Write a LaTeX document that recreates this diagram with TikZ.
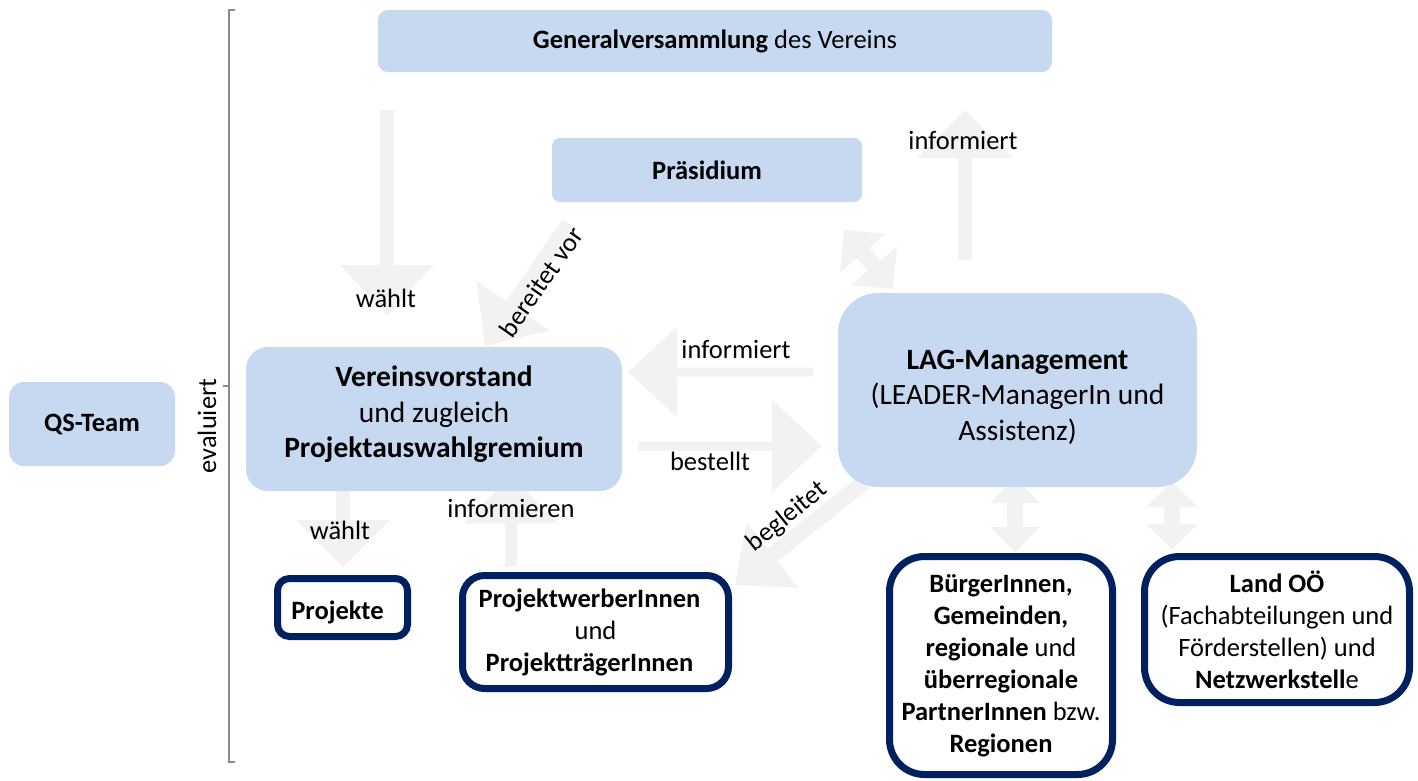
\documentclass[tikz,border=0pt]{standalone}
\usepackage{fontspec}
\setmainfont{Carlito}
\usetikzlibrary{calc}
\definecolor{boxblue}{HTML}{C6D9F1}
\definecolor{navy}{HTML}{002060}
\definecolor{arrgrey}{HTML}{F2F2F2}
\definecolor{brk}{HTML}{8C8C8C}
% block arrow: from, to, half shaft width, half head width, head length
\newcommand{\blockarrow}[5]{%
  \coordinate (ba-h) at ($(#2)!#5!(#1)$);
  \fill[arrgrey] ($(#1)!#3!90:(#2)$) -- ($(ba-h)!#3!90:(#2)$) -- ($(ba-h)!#4!90:(#2)$) -- (#2)
    -- ($(ba-h)!#4!-90:(#2)$) -- ($(ba-h)!#3!-90:(#2)$) -- ($(#1)!#3!-90:(#2)$) -- cycle;
}
% double block arrow
\newcommand{\dblockarrow}[5]{%
  \coordinate (da-h1) at ($(#2)!#5!(#1)$);
  \coordinate (da-h2) at ($(#1)!#5!(#2)$);
  \fill[arrgrey] (#1) -- ($(da-h2)!#4!90:(#2)$) -- ($(da-h2)!#3!90:(#2)$) -- ($(da-h1)!#3!90:(#2)$)
    -- ($(da-h1)!#4!90:(#2)$) -- (#2) -- ($(da-h1)!#4!-90:(#2)$) -- ($(da-h1)!#3!-90:(#2)$)
    -- ($(da-h2)!#3!-90:(#2)$) -- ($(da-h2)!#4!-90:(#2)$) -- cycle;
}
\begin{document}
\begin{tikzpicture}[x=1pt,y=-1pt,
  every node/.style={font=\fontsize{26.5}{35}\selectfont, inner sep=0pt, align=center, text=black},
  bluebox/.style={fill=boxblue, rounded corners=#1},
  bigtext/.style={font=\fontsize{29.5}{35.5}\selectfont},
  whitebox/.style={draw=navy, line width=7pt, fill=white, rounded corners=#1,
    font=\fontsize{26.5}{32}\selectfont},
  lbl/.style={}]
\useasboundingbox (0,0) rectangle (1418,780);

% arrow end points
\coordinate (a1s) at (387,110);  \coordinate (a1e) at (387,315);
\coordinate (a2s) at (569,224);  \coordinate (a2e) at (485,346);
\coordinate (a3s) at (965,260);  \coordinate (a3e) at (965,110);
\coordinate (a4s) at (844,230);  \coordinate (a4e) at (893,289);
\coordinate (a5s) at (813,372);  \coordinate (a5e) at (628,372);
\coordinate (a6s) at (638,446);  \coordinate (a6e) at (822,446);
\coordinate (a7s) at (864,482);  \coordinate (a7e) at (735,585);
\coordinate (a8s) at (343,488);  \coordinate (a8e) at (343,567);
\coordinate (a9s) at (511,567);  \coordinate (a9e) at (511,476);
\coordinate (a10s) at (1015,478); \coordinate (a10e) at (1015,552);
\coordinate (a11s) at (1172,482); \coordinate (a11e) at (1172,549);

% grey block arrows
\blockarrow{a1s}{a1e}{7pt}{47pt}{50pt}
\blockarrow{a2s}{a2e}{8pt}{44pt}{49pt}
\blockarrow{a3s}{a3e}{7pt}{48pt}{48pt}
\dblockarrow{a4s}{a4e}{8pt}{30pt}{30pt}
\blockarrow{a5s}{a5e}{4.5pt}{45pt}{49pt}
\blockarrow{a6s}{a6e}{4.5pt}{46pt}{50pt}
\blockarrow{a7s}{a7e}{8pt}{42pt}{48pt}
\blockarrow{a8s}{a8e}{7pt}{47pt}{47pt}
\blockarrow{a9s}{a9e}{6pt}{47pt}{47pt}
\dblockarrow{a10s}{a10e}{8pt}{25pt}{25pt}
\dblockarrow{a11s}{a11e}{8pt}{26pt}{25pt}

% bracket
\coordinate (bt) at (229,10);
\coordinate (bb) at (229,762);
\coordinate (bm) at (229,386);
\draw[brk, line width=1.5pt] ($(bt)+(6,0)$) -- (bt) -- (bb) -- ($(bb)+(6,0)$);
\draw[brk, line width=1.5pt] (bm) -- ($(bm)+(-6,0)$);

% blue boxes
\node[bluebox=10pt, minimum width=674pt, minimum height=62pt] (gen) at (715,41)
  {\textbf{Generalversammlung} des Vereins};
\node[bluebox=8pt, minimum width=310pt, minimum height=64pt] (pres) at (707,170)
  {\textbf{Präsidium}};
\node[bluebox=15pt, minimum width=166pt, minimum height=84pt] (qs) at (92,424)
  {\textbf{QS-Team}};
\node[bluebox=22pt, bigtext, minimum width=376pt, minimum height=144pt] (vv) at (434,419)
  {\textbf{Vereinsvorstand}\\und zugleich\\\textbf{Projektauswahlgremium}\rule[-14pt]{0pt}{0pt}};
\node[bluebox=40pt, bigtext, minimum width=359pt, minimum height=194pt] (lag) at (1017.5,390)
  {\rule{0pt}{34pt}\textbf{LAG-Management}\\(LEADER-ManagerIn und\\Assistenz)};

% white boxes
\node[whitebox=12pt, minimum width=130pt, minimum height=58pt] (proj) at (342.5,607.5)
  {\rule{0pt}{28pt}\textbf{Projekte}\hspace*{10pt}};
\node[whitebox=22pt, minimum width=266pt, minimum height=113pt] (pw) at (595.5,632)
  {\textbf{ProjektwerberInnen}\hspace*{12pt}\\und\hspace*{12pt}\\\textbf{ProjektträgerInnen}\hspace*{12pt}};
\node[whitebox=35pt, minimum width=223pt, minimum height=218pt] (buerger) at (1001,665.5)
  {\textbf{BürgerInnen,}\\\textbf{Gemeinden,}\\\textbf{regionale} und\\\textbf{überregionale}\\\textbf{PartnerInnen} bzw.\\\textbf{Regionen}};
\node[whitebox=35pt, minimum width=265pt, minimum height=146pt] (land) at (1277,629.5)
  {\textbf{Land OÖ}\\(Fachabteilungen und\\Förderstellen) und\\\textbf{Netzwerkstell}e};

% labels
\node[lbl] (lw1) at (386,298) {wählt};
\node[lbl, rotate=55] (lbv) at (541,282) {bereitet vor};
\node[lbl] (linf1) at (963,140) {informiert};
\node[lbl] (linf2) at (736,349) {informiert};
\node[lbl] (lbest) at (710,461) {bestellt};
\node[lbl, rotate=39] (lbeg) at (787,517) {begleitet};
\node[lbl] (lw2) at (340,530) {wählt};
\node[lbl] (linfo) at (511,508) {informieren};
\node[lbl, rotate=90] (leval) at (207,426) {evaluiert};
\end{tikzpicture}
\end{document}
